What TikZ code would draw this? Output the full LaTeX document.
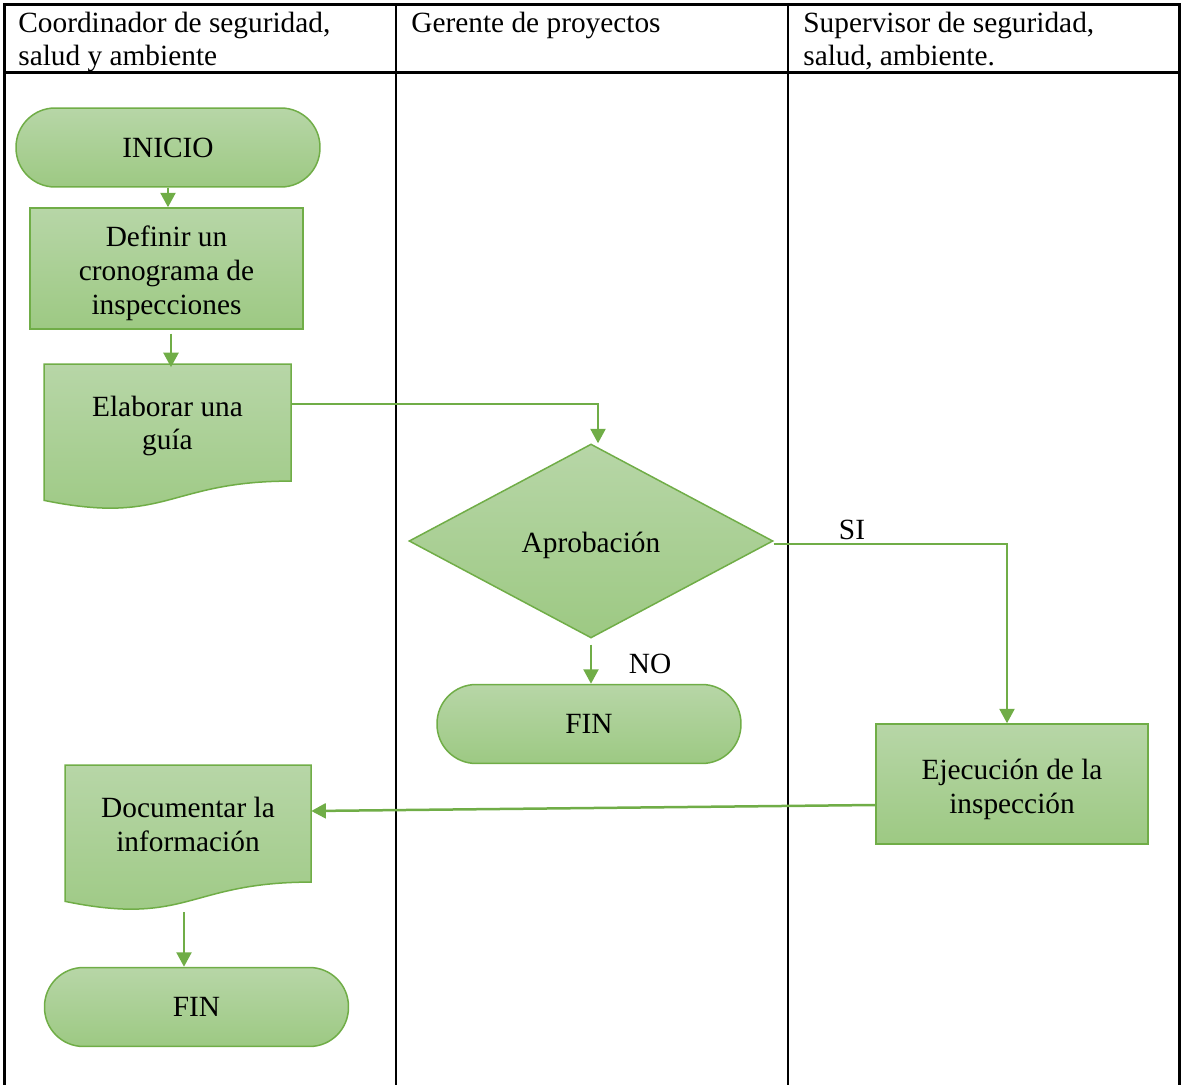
\documentclass[tikz,border=0pt]{standalone}
\usepackage{fontspec}
\setmainfont{Liberation Serif}
\usetikzlibrary{arrows.meta,shapes.geometric,calc}
\definecolor{gline}{RGB}{112,173,71}
\definecolor{gtop}{RGB}{183,214,167}
\definecolor{gbot}{RGB}{157,201,131}

% document symbol: left x, top y, right x, full height (wavy bottom edge)
\newcommand{\docshape}[4]{%
  \path[gshade] (#1,#2) -- (#3,#2) -- (#3,{#2+0.802*#4})
    .. controls ({(#1+#3)/2},{#2+0.802*#4}) and ({(#1+#3)/2},{#2+1.1075*#4}) ..
    (#1,{#2+0.934*#4}) -- cycle;}

\begin{document}
\begin{tikzpicture}[x=0.02cm,y=-0.02cm,
  every node/.style={font=\fontsize{16.7}{19.3}\selectfont, inner sep=0pt},
  gshade/.style={draw=gline, line width=0.03cm, top color=gtop, bottom color=gbot},
  terminal/.style={gshade, rectangle, rounded corners=0.78cm, minimum width=6.08cm, minimum height=1.58cm},
  process/.style={gshade, rectangle, align=center},
  decision/.style={gshade, diamond, minimum width=7.28cm, minimum height=3.88cm, aspect=1.876},
  doctext/.style={rectangle, align=center},
  flow/.style={draw=gline, line width=0.05cm, -{Triangle[width=0.3cm,length=0.29cm]}},
  lane/.style={black, line width=0.055cm},
  head/.style={anchor=north west, align=left, font=\fontsize{16.7}{18.8}\selectfont}
]
\useasboundingbox (0,0) rectangle (1181,1085);

% swimlane table
\draw[lane] (4.5,1095) -- (4.5,4.5) -- (1179.5,4.5) -- (1179.5,1095);
\draw[lane] (4.5,72.5) -- (1179.5,72.5);
\draw[lane] (396,4.5) -- (396,1095);
\draw[lane] (788,4.5) -- (788,1095);

\node[head] (h1) at (18,12) {Coordinador de seguridad,\\salud y ambiente};
\node[head] (h2) at (411,12) {Gerente de proyectos};
\node[head] (h3) at (803,12) {Supervisor de seguridad,\\salud, ambiente.};

% flow symbols
\node[terminal] (ini) at (168,147.5) {INICIO};
\node[process, minimum width=5.46cm, minimum height=2.42cm] (def) at (166.5,268.5)
  {\rule{0pt}{17.6pt}Definir un\\cronograma de\\inspecciones};
\docshape{44}{364}{291}{146}
\node[doctext, minimum width=4.94cm, minimum height=2.34cm] (guia) at (167.5,426)
  {Elaborar una\\guía};
\node[decision, text height=17.1pt, text depth=3.6pt] (apr) at (591,541) {Aprobación};
\node[terminal] (fin1) at (589,724) {FIN};
\node[process, minimum width=5.44cm, minimum height=2.4cm] (eje) at (1012,784)
  {\rule{0pt}{17.4pt}Ejecución de la\\inspección};
\docshape{65}{765}{311}{146}
\node[doctext, minimum width=4.92cm, minimum height=2.34cm] (doc) at (188,824.5)
  {Documentar la\\información};
\node[terminal] (fin2) at (196.5,1007) {FIN};

% connectors
\draw[flow] (ini.south) -- (ini.south |- def.north);
\coordinate (dtop) at ([xshift=0.09cm,yshift=-0.08cm]def.south);
\draw[flow] (dtop) -- (dtop |- guia.north);
\draw[flow] ([yshift=0.44cm]guia.east) -| ([xshift=0.14cm]apr.north);
\draw[flow] ([yshift=-0.06cm]apr.east) -| ([xshift=-0.1cm]eje.north);
\node (si) at (852,530) {SI};
\draw[flow] ([yshift=-0.12cm]apr.south) -- (apr.south |- fin1.north);
\node (no) at (650,664) {NO};
\draw[flow] ([yshift=-0.42cm]eje.west) -- ([yshift=0.27cm]doc.east);
\coordinate (dbot) at ([yshift=-0.58cm,xshift=-0.08cm]doc.south);
\draw[flow] (dbot) -- (dbot |- fin2.north);
\end{tikzpicture}
\end{document}
